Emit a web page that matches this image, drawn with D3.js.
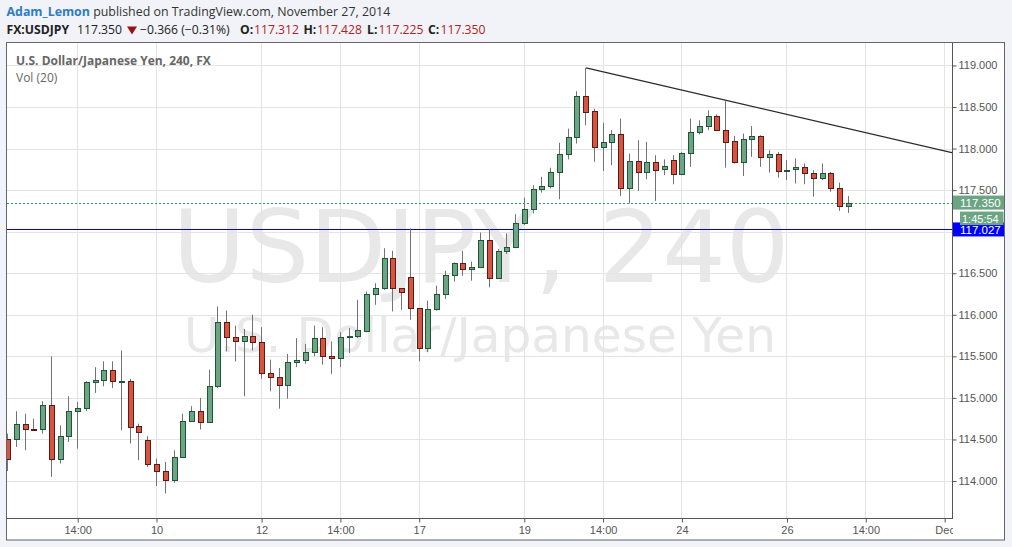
<!DOCTYPE html>
<html><head><meta charset="utf-8">
<script src="https://cdnjs.cloudflare.com/ajax/libs/d3/7.8.5/d3.min.js"></script>
<style>
html,body{margin:0;padding:0;background:#f1f3f8;}
svg{display:block;}
</style></head><body>
<svg id="c" width="1012" height="547"></svg>
<script>
// ---- data (4H candles, USDJPY) ----
const openP  = [114.51,114.51,114.69,114.63,114.62,114.92,114.27,114.54,114.84,114.88,
                115.19,115.21,115.33,115.20,115.20,114.66,114.49,114.20,114.12,114.01,
                114.29,114.72,114.84,114.71,115.14,115.91,115.73,115.68,115.74,115.67,
                115.30,115.25,115.16,115.43,115.45,115.55,115.72,115.50,115.48,115.73,
                115.74,115.81,116.25,116.32,116.68,116.32,116.45,116.08,115.60,116.07,
                116.25,116.48,116.62,116.55,116.58,116.90,116.44,116.77,116.82,117.10,
                117.27,117.51,117.55,117.72,117.94,118.14,118.63,118.45,118.02,118.08,
                118.18,117.53,117.85,117.72,117.84,117.75,117.86,117.69,117.95,118.20,
                118.27,118.39,118.22,118.09,117.84,118.12,118.15,117.90,117.94,117.74,
                117.75,117.78,117.70,117.64,117.70,117.53,117.312];
const highP  = [114.57,114.84,114.81,114.75,114.96,115.50,114.67,115.02,114.95,115.20,
                115.37,115.44,115.44,115.57,115.23,114.69,114.54,114.27,114.23,114.37,
                114.81,114.90,115.00,115.34,116.10,116.05,115.87,115.83,116.00,115.85,
                115.46,115.36,115.53,115.72,115.65,115.87,115.85,115.68,115.79,115.84,
                116.18,116.28,116.38,116.80,116.77,116.32,117.04,116.08,116.17,116.35,
                116.53,116.63,116.77,116.64,116.99,117.03,116.79,116.98,117.21,117.41,
                117.56,117.66,117.77,118.07,118.24,118.69,118.97,118.48,118.31,118.22,
                118.36,117.94,118.10,118.08,117.92,117.87,117.92,117.96,118.36,118.34,
                118.46,118.41,118.57,118.15,118.18,118.27,118.16,117.98,117.96,117.86,
                117.88,117.82,117.74,117.82,117.72,117.59,117.428];
const lowP   = [114.12,114.41,114.37,114.62,114.57,114.05,114.21,114.47,114.39,114.84,
                115.06,115.14,115.12,114.61,114.45,114.25,114.17,113.94,113.85,113.98,
                114.28,114.72,114.62,114.71,115.12,115.56,115.44,115.02,115.57,115.23,
                115.08,114.87,114.99,115.37,115.41,115.50,115.40,115.29,115.37,115.54,
                115.72,115.79,116.12,116.30,116.04,116.06,115.94,115.44,115.55,116.05,
                116.19,116.40,116.47,116.41,116.57,116.33,116.44,116.73,116.80,117.08,
                117.22,117.47,117.52,117.39,117.87,118.06,118.28,117.84,117.73,117.80,
                117.43,117.34,117.49,117.63,117.37,117.68,117.57,117.68,117.78,118.17,
                118.22,118.21,117.77,117.82,117.67,117.90,117.78,117.71,117.65,117.62,
                117.58,117.57,117.42,117.62,117.48,117.25,117.225];
const closeP = [114.27,114.69,114.62,114.62,114.92,114.27,114.54,114.84,114.88,115.19,
                115.21,115.33,115.20,115.20,114.65,114.59,114.20,114.12,114.01,114.29,
                114.72,114.84,114.71,115.14,115.91,115.73,115.68,115.74,115.67,115.30,
                115.25,115.16,115.43,115.45,115.55,115.72,115.50,115.48,115.73,115.74,
                115.82,116.25,116.32,116.68,116.32,116.27,116.08,115.60,116.07,116.25,
                116.48,116.62,116.55,116.58,116.90,116.44,116.77,116.82,117.10,117.27,
                117.51,117.55,117.72,117.94,118.14,118.63,118.44,118.02,118.08,118.18,
                117.53,117.85,117.72,117.84,117.74,117.79,117.69,117.95,118.20,118.27,
                118.39,118.22,118.08,117.84,118.12,118.15,117.90,117.94,117.73,117.74,
                117.78,117.70,117.64,117.70,117.53,117.31,117.350];

const xTickIdx    = [8, 17, 29, 38, 47, 59, 68, 77, 89, 98, 107];
const xTickLabels = ["14:00","10","12","14:00","17","19","14:00","24","26","14:00","Dec"];
const yTicks      = [114.0,114.5,115.0,115.5,116.0,116.5,117.0,117.5,118.0,118.5,119.0];
const lastPrice   = 117.350;
const levelPrice  = 117.027;
const trendIdx    = [66, 82];
const trendVal    = [118.97, 118.58];
const countdown   = "1:45:54";

// ---- layout ----
const L = 7, R = 953, T = 43, B = 519;
const svg = d3.select("#c");
const x = d3.scaleLinear().domain([-0.131, 107.9]).range([L, R]);
const y = d3.scaleLinear().domain([113.543, 119.27]).range([B, T]);
const candles = openP.map((o,i)=>({i, o, h:highP[i], l:lowP[i], c:closeP[i]}));

// header
const hdr = svg.append("g").attr("font-family","'Open Sans', 'Noto Sans', sans-serif");
const t1 = hdr.append("text").attr("x",6.5).attr("y",16).attr("font-size",12.4);
t1.append("tspan").attr("fill","#2d7cc4").attr("font-weight","bold").text("Adam_Lemon");
t1.append("tspan").attr("fill","#333").text(" published on TradingView.com, November 27, 2014");
const seg = [
  {x:6.5, t:"FX:USDJPY", w:"bold", f:"#222"},
  {x:77,  t:"117.350", w:"normal", f:"#222"},
  {x:140, t:"\u22120.366 (\u22120.31%)", w:"normal", f:"#222"},
  {x:240, t:"O:", w:"bold", f:"#222"},
  {x:254, t:"117.312", w:"normal", f:"#b3221c"},
  {x:303.5, t:"H:", w:"bold", f:"#222"},
  {x:317, t:"117.428", w:"normal", f:"#b3221c"},
  {x:367, t:"L:", w:"bold", f:"#222"},
  {x:378.5, t:"117.225", w:"normal", f:"#b3221c"},
  {x:428, t:"C:", w:"bold", f:"#222"},
  {x:440.5, t:"117.350", w:"normal", f:"#b3221c"}
];
hdr.selectAll("text.s").data(seg).join("text").attr("class","s")
  .attr("x",d=>d.x).attr("y",34).attr("font-size",12.2)
  .attr("font-weight",d=>d.w).attr("fill",d=>d.f).text(d=>d.t);
hdr.append("path").attr("d","M127,26.5 L137,26.5 L132,34.5 Z").attr("fill","#9b1111");

// panel
svg.append("rect").attr("x",6.5).attr("y",42.5).attr("width",998).attr("height",497.5)
  .attr("fill","#fff").attr("stroke","#666");

const defs = svg.append("defs");
defs.append("clipPath").attr("id","plot")
  .append("rect").attr("x",L).attr("y",T).attr("width",R-L).attr("height",B-T);
defs.append("clipPath").attr("id","xl")
  .append("rect").attr("x",L).attr("y",B).attr("width",R-L).attr("height",21);

const plot = svg.append("g").attr("clip-path","url(#plot)");

// watermark
plot.append("text").attr("x",(L+R)/2+1).attr("y",282).attr("text-anchor","middle")
  .attr("font-family","'DejaVu Sans', sans-serif").attr("font-size",100)
  .attr("fill","#e8e8e8").text("USDJPY, 240");
plot.append("text").attr("x",(L+R)/2).attr("y",352).attr("text-anchor","middle")
  .attr("font-family","'DejaVu Sans', sans-serif").attr("font-size",48.5)
  .attr("fill","#e8e8e8").text("U.S. Dollar/Japanese Yen");

// grid
plot.selectAll("line.gy").data(yTicks).join("line").attr("class","gy")
  .attr("x1",L).attr("x2",R).attr("y1",d=>Math.round(y(d))+0.5).attr("y2",d=>Math.round(y(d))+0.5)
  .attr("stroke","#e4e4e4");
plot.selectAll("line.gx").data(xTickIdx).join("line").attr("class","gx")
  .attr("y1",T).attr("y2",B).attr("x1",d=>Math.round(x(d))-0.5).attr("x2",d=>Math.round(x(d))-0.5)
  .attr("stroke","#e4e4e4");

// chart labels
plot.append("text").attr("x",16).attr("y",65).attr("font-family","'Open Sans', sans-serif")
  .attr("font-size",12).attr("font-weight","bold").attr("fill","#666")
  .text("U.S. Dollar/Japanese Yen, 240, FX");
plot.append("text").attr("x",16).attr("y",82).attr("font-family","'Open Sans', sans-serif")
  .attr("font-size",12).attr("fill","#666").text("Vol (20)");

// level lines
plot.append("line").attr("x1",L).attr("x2",R)
  .attr("y1",Math.round(y(levelPrice))+0.5).attr("y2",Math.round(y(levelPrice))+0.5)
  .attr("stroke","#0000e6").attr("stroke-width",1);
plot.append("line").attr("x1",L).attr("x2",R)
  .attr("y1",Math.round(y(lastPrice))+0.5).attr("y2",Math.round(y(lastPrice))+0.5)
  .attr("stroke","#2f9a5e").attr("stroke-dasharray","2,2");

// candles
const cg = plot.append("g");
const cx = d => Math.round(x(d.i));
cg.selectAll("line.w").data(candles).join("line").attr("class","w")
  .attr("x1",d=>cx(d)-0.5).attr("x2",d=>cx(d)-0.5)
  .attr("y1",d=>y(d.h)).attr("y2",d=>y(d.l))
  .attr("stroke","#737375").attr("stroke-width",1);
cg.selectAll("rect.b").data(candles).join("rect").attr("class","b")
  .attr("x",d=>cx(d)-2.5).attr("width",5)
  .attr("y",d=>Math.round(y(Math.max(d.o,d.c)))+0.5)
  .attr("height",d=>Math.max(1, Math.round(y(Math.min(d.o,d.c))) - Math.round(y(Math.max(d.o,d.c)))))
  .attr("fill",d=>d.c>=d.o?"#6ba583":"#d75442")
  .attr("stroke",d=>d.c>=d.o?"#225437":"#5b1a13").attr("stroke-width",1);

// trend line
const slope = (trendVal[1]-trendVal[0])/(trendIdx[1]-trendIdx[0]);
const iEnd = x.domain()[1];
const trendPts = [[trendIdx[0],trendVal[0]],[iEnd, trendVal[0]+slope*(iEnd-trendIdx[0])]];
plot.append("path").datum(trendPts)
  .attr("d", d3.line().x(d=>x(d[0])).y(d=>y(d[1])))
  .attr("stroke","#2a2a2a").attr("stroke-width",1.3).attr("fill","none");

// y axis
const yAxis = d3.axisRight(y).tickValues(yTicks).tickFormat(d3.format(".3f")).tickSize(4).tickPadding(2);
const ya = svg.append("g").attr("transform",`translate(${R-0.5},0)`).call(yAxis);
ya.select(".domain").remove();
ya.selectAll("line").attr("stroke","#555");
ya.selectAll("text").attr("fill","#555").attr("font-size",11).attr("font-family","'Liberation Sans', Arial, sans-serif");
svg.append("line").attr("x1",R-0.5).attr("x2",R-0.5).attr("y1",T).attr("y2",B).attr("stroke","#555");

// x axis
const xAxis = d3.axisBottom(x).tickValues(xTickIdx).tickFormat((d,k)=>xTickLabels[k]).tickSize(4).tickPadding(4);
const xaWrap = svg.append("g").attr("clip-path","url(#xl)");
const xa = xaWrap.append("g").attr("transform",`translate(-0.5,${B-0.5})`).call(xAxis);
xa.select(".domain").remove();
xa.selectAll("line").attr("stroke","#555");
xa.selectAll("text").attr("fill","#555").attr("font-size",11).attr("font-family","'Liberation Sans', Arial, sans-serif");
svg.append("line").attr("x1",L).attr("x2",R).attr("y1",B-0.5).attr("y2",B-0.5).attr("stroke","#555");

// price labels on axis
const lab = svg.append("g").attr("font-family","'Liberation Sans', Arial, sans-serif").attr("font-size",11.5);
const yl = y(levelPrice), yp = y(lastPrice);
lab.append("rect").attr("x",R).attr("y",yl-7).attr("width",51).attr("height",14).attr("fill","#0000ff");
lab.append("text").attr("x",960).attr("y",yl+4.5).attr("fill","#fff").text(d3.format(".3f")(levelPrice));
lab.append("rect").attr("x",R).attr("y",yp-7).attr("width",51).attr("height",14).attr("fill","#6ba583");
lab.append("text").attr("x",960).attr("y",yp+4.5).attr("fill","#fff").text(d3.format(".3f")(lastPrice));
lab.append("rect").attr("x",960).attr("y",yp+9).attr("width",43.5).attr("height",13.5).attr("fill","#6ba583");
lab.append("text").attr("x",962).attr("y",yp+20).attr("fill","#fff").attr("font-size",11).text(countdown);
</script>
</body></html>
